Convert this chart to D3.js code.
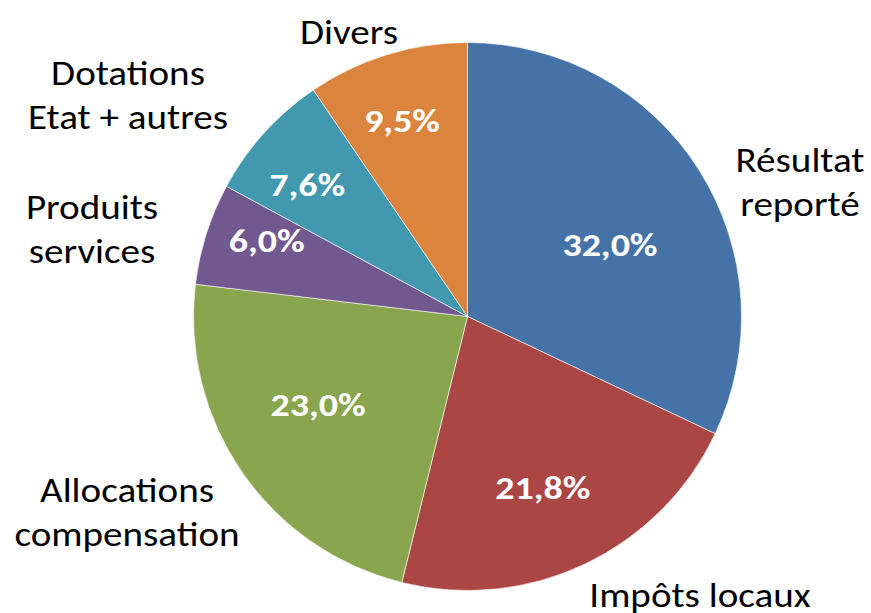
<!DOCTYPE html>
<html>
<head>
<meta charset="utf-8">
<script src="https://cdn.jsdelivr.net/npm/d3@7"></script>
<style>
  html, body { margin: 0; padding: 0; background: #fff; }
  svg { display: block; }
  text { font-family: Carlito, Calibri, Lato, "Open Sans", sans-serif; }
</style>
</head>
<body>
<div id="chart"></div>
<script>
// ---- data ----
const categories = ["Résultat reporté", "Impôts locaux", "Allocations compensation", "Produits services", "Dotations Etat + autres", "Divers"];
const labelLines = [["Résultat", "reporté"], ["Impôts locaux"], ["Allocations", "compensation"], ["Produits", "services"], ["Dotations", "Etat + autres"], ["Divers"]];
const values = [32.0, 21.8, 23.0, 6.0, 7.6, 9.5];
const percentLabels = ["32,0%", "21,8%", "23,0%", "6,0%", "7,6%", "9,5%"];
const colors = ["#4572A7", "#AA4643", "#89A54E", "#71588F", "#4198AF", "#DB843D"];

// ---- layout ----
const W = 871, H = 613;
const cx = 467.5, cy = 316.5, R = 274;
const stretchX = 1.15;
const labelRadius = 0.65;
// nudges of the inner percentage labels from the slice centroid (best-fit placement)
const pctNudge = [[-8, 23], [-1, 10], [-3, -13], [-31, -22], [-28, -13], [-13, -26]];
// outer category label anchors (centre of text block)
const outerPos = [[800, 182], [700, 595], [127, 512], [92, 229], [128, 95], [349, 32]];
const lineGap = 44;

const svg = d3.select("#chart").append("svg").attr("width", W).attr("height", H);
const g = svg.append("g").attr("transform", `translate(${cx},${cy})`);

const pie = d3.pie().sort(null).value(d => d);
const arcs = pie(values);
const arc = d3.arc().innerRadius(0).outerRadius(R);
const labelArc = d3.arc().innerRadius(R * labelRadius).outerRadius(R * labelRadius);

g.selectAll("path.slice").data(arcs).enter().append("path")
  .attr("class", "slice")
  .attr("d", arc)
  .attr("fill", (d, i) => colors[i])
  .attr("stroke", "#ffffff")
  .attr("stroke-width", 0.6);

g.selectAll("text.pct").data(arcs).enter().append("text")
  .attr("class", "pct")
  .attr("transform", (d, i) => {
    const c = labelArc.centroid(d);
    return `translate(${c[0] + pctNudge[i][0]},${c[1] + pctNudge[i][1]}) scale(${stretchX},1)`;
  })
  .attr("text-anchor", "middle")
  .attr("dy", "0.35em")
  .attr("fill", "#ffffff")
  .attr("font-weight", "bold")
  .attr("font-size", 33)
  .text((d, i) => percentLabels[i]);

const outer = svg.selectAll("text.cat").data(categories).enter().append("text")
  .attr("class", "cat")
  .attr("text-anchor", "middle")
  .attr("fill", "#000000")
  .attr("font-size", 34)
  .attr("transform", (d, i) => `translate(${outerPos[i][0]},${outerPos[i][1]}) scale(${stretchX},1)`);
outer.each(function(d, i) {
  const lines = labelLines[i];
  const n = lines.length;
  const t = d3.select(this);
  lines.forEach((ln, k) => {
    t.append("tspan")
      .attr("x", 0)
      .attr("y", (k - (n - 1) / 2) * lineGap)
      .attr("dy", "0.35em")
      .text(ln);
  });
});
</script>
</body>
</html>
